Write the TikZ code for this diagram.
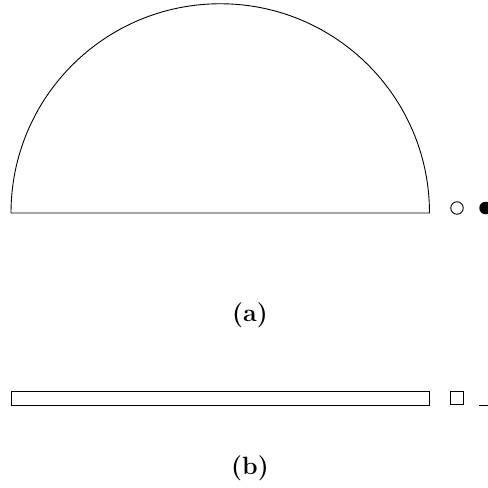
\documentclass[tikz,border=0pt]{standalone}
\begin{document}
\begin{tikzpicture}[x=1pt,y=-1pt,
  shape line/.style={draw=black, line width=0.9pt},
  lab/.style={font=\fontsize{25}{30}\selectfont\bfseries, inner sep=0pt}]
\useasboundingbox (0,0) rectangle (488,488);
\begin{scope}
\clip (0,0) rectangle (488,488);
% (a)
\draw[shape line] (11,213) arc[start angle=180, end angle=360, radius=209.25] -- cycle;
\node[shape line, circle, minimum size=12.5pt, inner sep=0pt] (oc) at (457,208) {};
\node[fill=black, circle, minimum size=12.5pt, inner sep=0pt] (fc) at (485.5,208) {};
\node[lab] (la) at (250,315) {(a)};
% (b)
\draw[shape line] (11,391) rectangle (429.5,405);
\node[shape line, rectangle, minimum size=13pt, inner sep=0pt] (sq) at (456.5,397.5) {};
\coordinate (l1) at (479,405.5);
\coordinate (l2) at (488,405.5);
\draw[line width=1.3pt] (l1) -- (l2);
\node[lab] (lb) at (250,468) {(b)};
\end{scope}
\end{tikzpicture}
\end{document}
